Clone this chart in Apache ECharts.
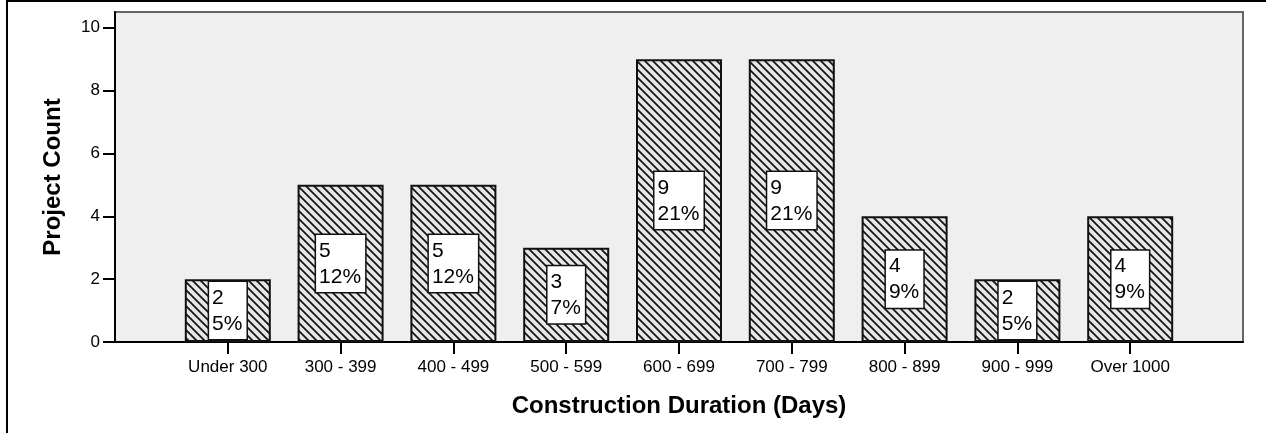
<!DOCTYPE html>
<html>
<head>
<meta charset="utf-8">
<script src="https://cdn.jsdelivr.net/npm/echarts@6/dist/echarts.min.js"></script>
<style>
  html, body { margin: 0; padding: 0; background: #fff; }
  #wrap { position: relative; width: 1266px; height: 433px; }
  #chart { width: 1266px; height: 433px; }
  /* outer frame, only top and left edges are visible */
  #frame {
    position: absolute; left: 6px; top: 0; right: -4px; bottom: -4px;
    border-top: 2px solid #000; border-left: 2px solid #000;
    pointer-events: none;
  }
</style>
</head>
<body>
<div id="wrap">
  <div id="chart"></div>
  <div id="frame"></div>
</div>
<script>
var categories = ["Under 300", "300 - 399", "400 - 499", "500 - 599", "600 - 699",
                  "700 - 799", "800 - 899", "900 - 999", "Over 1000"];
var counts = [2, 5, 5, 3, 9, 9, 4, 2, 4];
var yTicks = [0, 2, 4, 6, 8, 10];

var FONT = "'Liberation Sans', Arial, sans-serif";

// hatch pattern for the bars ("\\" diagonal lines)
function makeHatch() {
  var s = 8;
  var c = document.createElement("canvas");
  c.width = s; c.height = s;
  var ctx = c.getContext("2d");
  ctx.fillStyle = "#e6e6e6";
  ctx.fillRect(0, 0, s, s);
  ctx.strokeStyle = "#111";
  ctx.lineWidth = 1.7;
  ctx.beginPath();
  ctx.moveTo(-2, -2); ctx.lineTo(s + 2, s + 2);
  ctx.moveTo(-2, s - 2); ctx.lineTo(2, s + 2);
  ctx.moveTo(s - 2, -2); ctx.lineTo(s + 2, 2);
  ctx.stroke();
  return c;
}

var total = counts.reduce(function (a, b) { return a + b; }, 0);

// pad the category list so the bars sit one slot in from each end
var axisData = [""].concat(categories, [""]);
var barData = [null].concat(counts, [null]);

var chart = echarts.init(document.getElementById("chart"));
chart.setOption({
  animation: false,
  textStyle: { fontFamily: FONT },
  grid: {
    left: 115,
    right: 23,
    top: 12,
    bottom: 91,
    show: true,
    backgroundColor: "#efefef",
    borderColor: "#666",
    borderWidth: 2
  },
  xAxis: {
    type: "category",
    data: axisData,
    boundaryGap: false,
    name: "Construction Duration (Days)",
    nameLocation: "middle",
    nameGap: 52,
    nameTextStyle: { fontSize: 24, fontWeight: "bold", color: "#000", fontFamily: FONT },
    axisLine: { lineStyle: { color: "#000", width: 2 } },
    axisTick: {
      length: 12,
      lineStyle: { color: "#000", width: 2 },
      interval: function (idx, val) { return val !== ""; }
    },
    axisLabel: {
      fontSize: 17,
      color: "#000",
      margin: 17,
      interval: 0
    },
    splitLine: { show: false }
  },
  yAxis: {
    type: "value",
    min: 0,
    max: 10.5,
    name: "Project Count",
    nameLocation: "middle",
    nameGap: 50,
    nameTextStyle: { fontSize: 24, fontWeight: "bold", color: "#000", fontFamily: FONT },
    axisLine: { show: true, lineStyle: { color: "#000", width: 2 } },
    axisTick: {
      show: true,
      length: 12,
      lineStyle: { color: "#000", width: 2 },
      customValues: yTicks
    },
    axisLabel: {
      fontSize: 17,
      color: "#000",
      margin: 15,
      customValues: yTicks
    },
    splitLine: { show: false }
  },
  series: [
    {
      type: "bar",
      data: barData,
      barWidth: 86,
      itemStyle: {
        color: { image: makeHatch(), repeat: "repeat" },
        borderColor: "#111",
        borderWidth: 2
      },
      label: {
        show: true,
        position: "inside",
        backgroundColor: "#fff",
        borderColor: "#111",
        borderWidth: 1.5,
        padding: [3, 4, 2, 3],
        formatter: function (p) {
          if (p.value == null) return "";
          var pct = Math.round(p.value / total * 100);
          return "{t|" + p.value + "}\n{t|" + pct + "%}";
        },
        rich: {
          t: { fontSize: 21, lineHeight: 26, align: "left", color: "#000", fontFamily: FONT }
        }
      }
    }
  ]
});
</script>
</body>
</html>
